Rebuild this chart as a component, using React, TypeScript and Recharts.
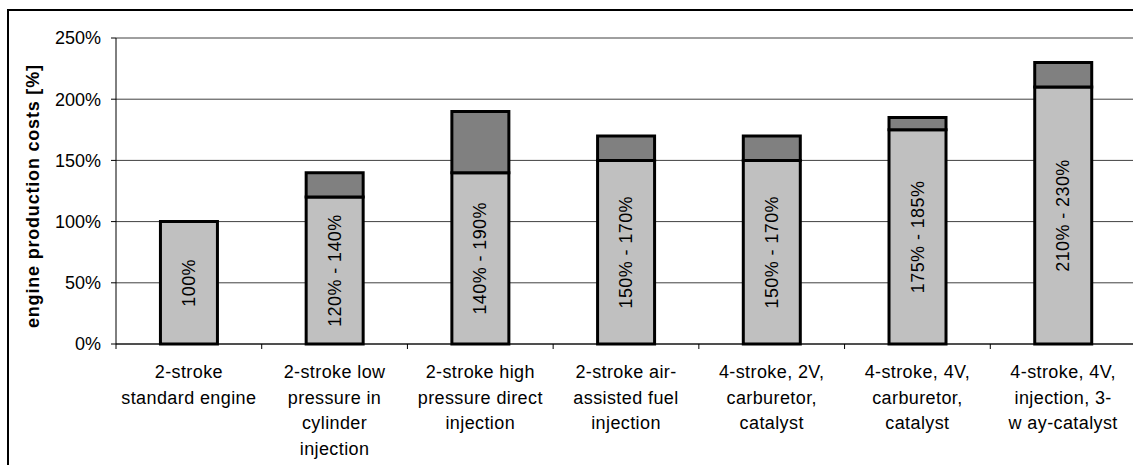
import React from 'react';
import { BarChart, Bar, XAxis, YAxis, CartesianGrid, LabelList } from 'recharts';

const categoryLines: string[][] = [
  ['2-stroke', 'standard engine'],
  ['2-stroke low', 'pressure in', 'cylinder', 'injection'],
  ['2-stroke high', 'pressure direct', 'injection'],
  ['2-stroke air-', 'assisted fuel', 'injection'],
  ['4-stroke, 2V,', 'carburetor,', 'catalyst'],
  ['4-stroke, 4V,', 'carburetor,', 'catalyst'],
  ['4-stroke, 4V,', 'injection, 3-', 'w ay-catalyst'],
];
const categories = categoryLines.map((l) => l.join(' '));
const lowCost = [100, 120, 140, 150, 150, 175, 210];
const highCost = [100, 140, 190, 170, 170, 185, 230];
const yTicks = [0, 50, 100, 150, 200, 250];
const yAxisTitle = 'engine production costs [%]';

const data = categories.map((c, i) => ({
  category: c,
  low: lowCost[i],
  extra: highCost[i] - lowCost[i],
  label: lowCost[i] === highCost[i] ? `${lowCost[i]}%` : `${lowCost[i]}% - ${highCost[i]}%`,
}));

const FONT = '"Liberation Sans", Arial, sans-serif';

const XTick = (props: any) => {
  const { x, y, payload, index } = props;
  const half = payload && payload.offset ? payload.offset : 72.8;
  const lines = categoryLines[index] ?? [String(payload.value)];
  return (
    <g>
      <line x1={x - half} x2={x - half} y1={y} y2={y + 5} stroke="#000" strokeWidth={1} />
      {index === categories.length - 1 && (
        <line x1={x + half} x2={x + half} y1={y} y2={y + 5} stroke="#000" strokeWidth={1} />
      )}
      <text x={x} y={y + 34} textAnchor="middle" fontSize={18} letterSpacing={0.4} fill="#000" fontFamily={FONT}>
        {lines.map((l, i) => (
          <tspan key={i} x={x} dy={i === 0 ? 0 : 25.6}>
            {l}
          </tspan>
        ))}
      </text>
    </g>
  );
};

const BarLabel = (props: any) => {
  const { x, y, width, height, value } = props;
  const cx = x + width / 2;
  const cy = y + height / 2;
  return (
    <text
      x={cx}
      y={cy}
      transform={`rotate(-90 ${cx} ${cy})`}
      textAnchor="middle"
      dominantBaseline="central"
      fontSize={18}
      letterSpacing={0.4}
      fill="#000"
      fontFamily={FONT}
    >
      {value}
    </text>
  );
};

export default function App() {
  const tcx = 33;
  const tcy = 196.5;
  return (
    <div style={{ position: 'fixed', left: 0, top: 0, width: 1133, height: 465, overflow: 'hidden', background: '#fff' }}>
      <div
        style={{
          position: 'absolute',
          left: 7,
          top: 9,
          width: 1200,
          height: 520,
          border: '2px solid #000',
          boxSizing: 'border-box',
        }}
      />
      <div style={{ position: 'absolute', left: 9, top: 11 }}>
        <BarChart
          width={1140}
          height={460}
          data={data}
          margin={{ top: 27, right: 13, bottom: 0, left: 0 }}
          barCategoryGap="30.5%"
        >
          <CartesianGrid vertical={false} stroke="#404040" strokeWidth={1} />
          <XAxis
            dataKey="category"
            height={127}
            interval={0}
            tickLine={false}
            tickSize={0}
            tickMargin={0}
            axisLine={{ stroke: '#000', strokeWidth: 1 }}
            tick={<XTick />}
          />
          <YAxis
            width={107}
            domain={[0, 250]}
            ticks={yTicks}
            interval={0}
            tickFormatter={(v: number) => `${v}%`}
            tickSize={5}
            tickMargin={10}
            tickLine={{ stroke: '#000' }}
            axisLine={{ stroke: '#000', strokeWidth: 1 }}
            tick={{ fontSize: 18, fill: '#000', fontFamily: FONT }}
          />
          <Bar dataKey="low" stackId="a" fill="#c0c0c0" stroke="#000" strokeWidth={3} isAnimationActive={false}>
            <LabelList dataKey="label" content={<BarLabel />} />
          </Bar>
          <Bar dataKey="extra" stackId="a" fill="#808080" stroke="#000" strokeWidth={3} isAnimationActive={false} />
        </BarChart>
      </div>
      <svg
        width={60}
        height={465}
        style={{ position: 'absolute', left: 0, top: 0, pointerEvents: 'none' }}
      >
        <text
          x={tcx}
          y={tcy}
          transform={`rotate(-90 ${tcx} ${tcy})`}
          textAnchor="middle"
          dominantBaseline="central"
          fontSize={18}
          fontWeight="bold"
          textLength={263}
          lengthAdjust="spacing"
          fill="#000"
          fontFamily={FONT}
        >
          {yAxisTitle}
        </text>
      </svg>
    </div>
  );
}
